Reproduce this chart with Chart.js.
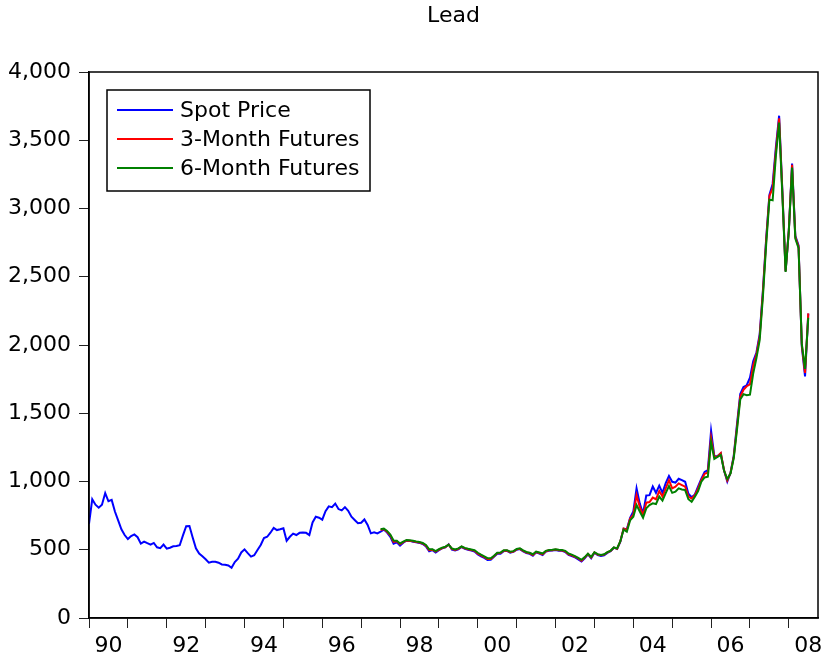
<!DOCTYPE html>
<html>
<head>
<meta charset="utf-8">
<title>Lead</title>
<script src="https://cdn.jsdelivr.net/npm/chart.js@4.4.1/dist/chart.umd.min.js"></script>
<style>
  html, body { margin: 0; padding: 0; background: #ffffff; }
  #wrap { width: 825px; height: 663px; }
</style>
</head>
<body>
<div id="wrap"><canvas id="chart" width="825" height="663"></canvas></div>
<script>
// Monthly lead prices (USD/tonne), January 1990 onwards.
const chartTitle = 'Lead';
const seriesNames = ['Spot Price', '3-Month Futures', '6-Month Futures'];
const seriesColors = ['#0000ff', '#ff0000', '#008000'];

// Axis runs from Jan 1990 (month 0) to Oct 2008 (month 225).
const axisFirstMonth = 0;
const axisLastMonth = 225;
const yearTickMonths = [0, 12, 24, 36, 48, 60, 72, 84, 96, 108, 120, 132, 144, 156, 168, 180, 192, 204, 216];
const yearTickLabels = ['90', '', '92', '', '94', '', '96', '', '98', '', '00', '', '02', '', '04', '', '06', '', '08'];
const valueTicks = [0, 500, 1000, 1500, 2000, 2500, 3000, 3500, 4000];

const spotPrice = [
  // 1990
  690, 870, 830, 808, 830, 915, 855, 865, 780, 715, 650, 608,
  // 1991
  578, 600, 612, 592, 545, 560, 548, 537, 550, 518, 512, 538,
  // 1992
  508, 515, 525, 527, 533, 605, 672, 674, 590, 510, 472, 452,
  // 1993
  430, 405, 412, 412, 405, 392, 390, 385, 368, 410, 435, 480,
  // 1994
  503, 475, 450, 460, 498, 535, 586, 595, 625, 660, 644, 650,
  // 1995
  657, 566, 595, 618, 608, 624, 627, 624, 608, 700, 742, 735,
  // 1996
  720, 782, 818, 812, 838, 798, 788, 812, 786, 742, 718, 694,
  // 1997
  698, 722, 682, 620, 627, 620, 632, 648, 626, 595, 545, 555,
  // 1998
  530, 552, 566, 565, 559, 554, 550, 542, 525, 488, 497, 480,
  // 1999
  497, 510, 517, 540, 500, 494, 502, 520, 506, 499, 494, 487,
  // 2000
  465, 452, 440, 425, 426, 448, 470, 471, 490, 492, 478, 484,
  // 2001
  500, 505, 488, 476, 470, 456, 482, 472, 462, 487, 493, 494,
  // 2002
  498, 493, 492, 484, 462, 454, 444, 430, 414, 438, 467, 438,
  // 2003
  478, 461, 455, 460, 477, 489, 515, 505, 560, 655, 650, 733,
  // 2004
  780, 950, 838, 766, 898, 900, 963, 917, 970, 917, 988, 1040,
  // 2005
  998, 992, 1020, 1010, 998, 910, 885, 905, 965, 1020, 1070, 1083,
  // 2006
  1371, 1185, 1186, 1206, 1080, 1000, 1065, 1190, 1420, 1640, 1692, 1705,
  // 2007
  1760, 1880, 1945, 2080, 2400, 2780, 3100, 3180, 3450, 3680, 3130, 2540,
  // 2008
  2840, 3330, 2800, 2730, 1990, 1770, 2230
];

// Futures quotes begin in July 1997 (month 90).
const futuresFirstMonth = 90;

const futures3M = [
  // 1997 Jul-Dec
  645, 652, 632, 605, 558, 562,
  // 1998
  540, 556, 568, 566, 562, 557, 553, 546, 530, 497, 500, 486,
  // 1999
  500, 512, 520, 538, 506, 498, 506, 522, 510, 503, 498, 492,
  // 2000
  472, 458, 446, 432, 432, 452, 474, 476, 493, 494, 482, 487,
  // 2001
  503, 507, 492, 480, 474, 462, 484, 476, 467, 489, 496, 497,
  // 2002
  501, 497, 495, 488, 467, 459, 449, 436, 420, 442, 469, 443,
  // 2003
  480, 465, 459, 464, 480, 492, 516, 508, 562, 655, 645, 728,
  // 2004
  758, 900, 812, 754, 845, 850, 882, 870, 930, 890, 950, 1010,
  // 2005
  950, 962, 986, 974, 962, 890, 875, 900, 950, 1010, 1057, 1065,
  // 2006
  1320, 1180, 1184, 1208, 1082, 1008, 1062, 1182, 1400, 1622, 1672, 1698,
  // 2007
  1712, 1850, 1930, 2062, 2385, 2765, 3090, 3150, 3420, 3660, 3120, 2540,
  // 2008
  2840, 3320, 2790, 2720, 2000, 1795, 2232
];

const futures6M = [
  // 1997 Jul-Dec
  650, 655, 638, 612, 568, 566,
  // 1998
  546, 560, 572, 570, 566, 561, 557, 550, 535, 503, 504, 490,
  // 1999
  504, 515, 523, 537, 510, 502, 510, 524, 514, 507, 502, 497,
  // 2000
  478, 464, 452, 438, 437, 456, 478, 480, 496, 497, 486, 490,
  // 2001
  506, 510, 496, 484, 478, 467, 487, 480, 472, 492, 499, 500,
  // 2002
  504, 500, 498, 492, 472, 464, 454, 441, 426, 446, 471, 448,
  // 2003
  482, 468, 462, 467, 483, 494, 517, 510, 563, 648, 632, 715,
  // 2004
  742, 827, 780, 735, 803, 827, 840, 835, 890, 860, 915, 966,
  // 2005
  917, 925, 950, 942, 937, 870, 852, 888, 930, 998, 1030, 1035,
  // 2006
  1290, 1166, 1180, 1195, 1080, 1018, 1058, 1172, 1380, 1600, 1640, 1632,
  // 2007
  1636, 1790, 1905, 2035, 2355, 2735, 3065, 3060, 3385, 3630, 3100, 2535,
  // 2008
  2838, 3300, 2780, 2710, 2010, 1825, 2200
];

const FONT = 'DejaVu Sans';

// Turn a monthly array into {x: month, y: value} points.
function toPoints(values, firstMonth) {
  return values.map((v, i) => ({ x: firstMonth + i, y: v }));
}

// Box round the whole plotting area.
const framePlugin = {
  id: 'frame',
  afterDatasetsDraw(chart) {
    const { ctx, chartArea: a } = chart;
    ctx.save();
    ctx.strokeStyle = '#000';
    ctx.lineWidth = 1.5;
    ctx.strokeRect(a.left, a.top, a.right - a.left, a.bottom - a.top);
    ctx.restore();
  }
};

// Title centred over the plotting area.
const titlePlugin = {
  id: 'centredTitle',
  afterDraw(chart) {
    const { ctx, chartArea: a } = chart;
    ctx.save();
    ctx.fillStyle = '#000';
    ctx.font = '22px "' + FONT + '"';
    ctx.textAlign = 'center';
    ctx.textBaseline = 'middle';
    ctx.fillText(chartTitle, (a.left + a.right) / 2, 16);
    ctx.restore();
  }
};

// Boxed legend in the upper-left corner of the plot.
const boxLegendPlugin = {
  id: 'boxLegend',
  afterDatasetsDraw(chart) {
    const { ctx, chartArea: a } = chart;
    const x0 = a.left + 18, y0 = a.top + 18, w = 263, h = 101;
    ctx.save();
    ctx.fillStyle = '#fff';
    ctx.fillRect(x0, y0, w, h);
    ctx.strokeStyle = '#000';
    ctx.lineWidth = 1.5;
    ctx.strokeRect(x0, y0, w, h);
    ctx.font = '22px "' + FONT + '"';
    ctx.textAlign = 'left';
    ctx.textBaseline = 'middle';
    chart.data.datasets.forEach((ds, i) => {
      const y = y0 + 20 + i * 29;
      ctx.strokeStyle = ds.borderColor;
      ctx.lineWidth = 2;
      ctx.beginPath();
      ctx.moveTo(x0 + 10, y);
      ctx.lineTo(x0 + 66, y);
      ctx.stroke();
      ctx.fillStyle = '#000';
      ctx.fillText(ds.label, x0 + 73, y + 1);
    });
    ctx.restore();
  }
};

const seriesData = [
  toPoints(spotPrice, 0),
  toPoints(futures3M, futuresFirstMonth),
  toPoints(futures6M, futuresFirstMonth)
];

new Chart(document.getElementById('chart'), {
  type: 'line',
  data: {
    datasets: seriesNames.map((name, i) => ({
      label: name,
      data: seriesData[i],
      borderColor: seriesColors[i],
      backgroundColor: seriesColors[i],
      borderWidth: 2,
      pointRadius: 0,
      tension: 0,
      fill: false,
      order: 3 - i
    }))
  },
  options: {
    responsive: false,
    animation: false,
    devicePixelRatio: 1,
    layout: { padding: { top: 72, right: 7, left: 0, bottom: 0 } },
    plugins: {
      legend: { display: false },
      title: { display: false },
      tooltip: { enabled: false }
    },
    scales: {
      x: {
        type: 'linear',
        min: axisFirstMonth,
        max: axisLastMonth,
        afterBuildTicks(scale) {
          scale.ticks = yearTickMonths.map(v => ({ value: v }));
        },
        afterFit(scale) { scale.height = 45; },
        ticks: {
          autoSkip: false,
          maxRotation: 0,
          labelOffset: 19.4,
          padding: 5,
          color: '#000',
          font: { family: FONT, size: 22 },
          callback(value) {
            const k = yearTickMonths.indexOf(value);
            return k >= 0 ? yearTickLabels[k] : '';
          }
        },
        grid: {
          drawOnChartArea: false,
          drawTicks: true,
          tickLength: 10,
          color: '#222',
          lineWidth: 1
        },
        border: { display: true, color: '#000', width: 1.5 }
      },
      y: {
        type: 'linear',
        min: valueTicks[0],
        max: valueTicks[valueTicks.length - 1],
        afterBuildTicks(scale) {
          scale.ticks = valueTicks.map(v => ({ value: v }));
        },
        afterFit(scale) { scale.width = 89; },
        ticks: {
          padding: 8,
          color: '#000',
          font: { family: FONT, size: 22 },
          callback(value) { return value.toLocaleString('en-US'); }
        },
        grid: {
          drawOnChartArea: false,
          drawTicks: true,
          tickLength: 10,
          color: '#222',
          lineWidth: 1
        },
        border: { display: true, color: '#000', width: 1.5 }
      }
    }
  },
  plugins: [framePlugin, boxLegendPlugin, titlePlugin]
});
</script>
</body>
</html>
